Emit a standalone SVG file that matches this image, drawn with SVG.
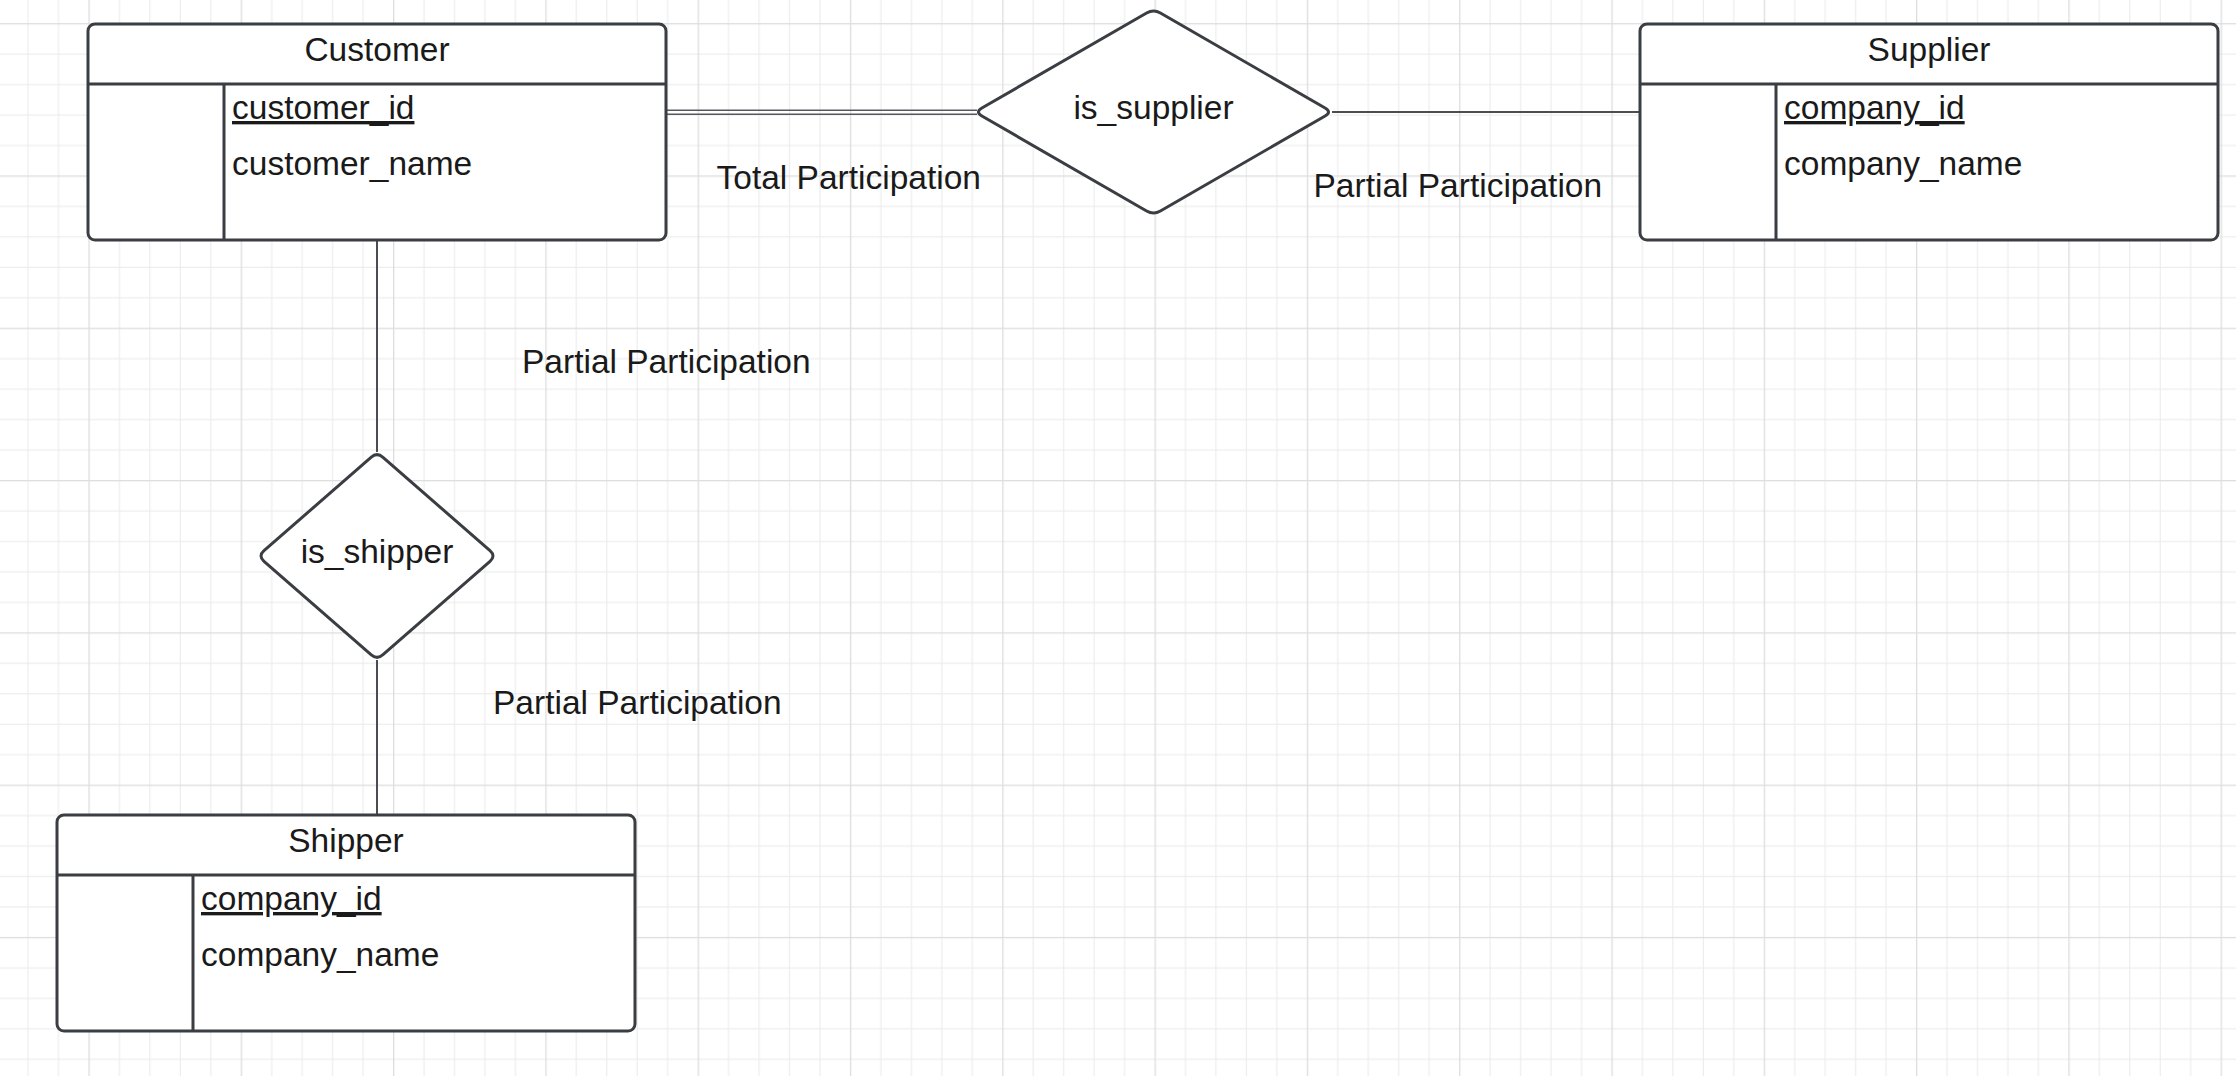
<svg xmlns="http://www.w3.org/2000/svg" width="2236" height="1076" viewBox="0 0 2236 1076">
  <style>
    .box { fill: #ffffff; stroke: #3a3d42; stroke-width: 3; }
    .sep { stroke: #3a3d42; stroke-width: 3; fill: none; }
    .conn { stroke: #4a4d52; stroke-width: 2; fill: none; }
    .dconn { stroke: #55585d; stroke-width: 1.6; fill: none; }
    text { font-family: "Liberation Sans", Arial, sans-serif; font-size: 33.5px; fill: #1a1a1a; }
    .title { text-anchor: middle; }
    .mid { text-anchor: middle; }
    .pk { text-decoration: underline; }
  </style>
  <defs>
    <pattern id="grid" width="152.3" height="152.3" patternUnits="userSpaceOnUse" x="88.4" y="23.1">
      <rect x="0" y="0" width="152.3" height="152.3" fill="#ffffff"/>
      <g fill="#ececec">
        <rect x="30.46" y="0" width="1.1" height="152.3"/>
        <rect x="60.92" y="0" width="1.1" height="152.3"/>
        <rect x="91.38" y="0" width="1.1" height="152.3"/>
        <rect x="121.84" y="0" width="1.1" height="152.3"/>
        <rect x="0" y="30.46" width="152.3" height="1.1"/>
        <rect x="0" y="60.92" width="152.3" height="1.1"/>
        <rect x="0" y="91.38" width="152.3" height="1.1"/>
        <rect x="0" y="121.84" width="152.3" height="1.1"/>
      </g>
      <g fill="#dedede">
        <rect x="0" y="0" width="1.3" height="152.3"/>
        <rect x="0" y="0" width="152.3" height="1.3"/>
      </g>
    </pattern>
  </defs>

  <rect x="0" y="0" width="2236" height="1076" fill="url(#grid)"/>

  <g id="connectors">
    <line class="dconn" x1="666" y1="110.3" x2="977" y2="110.3"/>
    <line class="dconn" x1="666" y1="114.3" x2="977" y2="114.3"/>
    <line class="conn" x1="1332" y1="112" x2="1640" y2="112"/>
    <line class="conn" x1="377" y1="240" x2="377" y2="452"/>
    <line class="conn" x1="377" y1="660" x2="377" y2="815"/>
  </g>

  <g id="labels">
    <text x="716.5" y="189">Total Participation</text>
    <text x="1313.5" y="197">Partial Participation</text>
    <text x="522" y="373">Partial Participation</text>
    <text x="493" y="714">Partial Participation</text>
  </g>

  <g id="customer">
    <rect class="box" x="88" y="24" width="578" height="216" rx="7"/>
    <line class="sep" x1="88" y1="84" x2="666" y2="84"/>
    <line class="sep" x1="224" y1="84" x2="224" y2="240"/>
    <text class="title" x="377" y="61">Customer</text>
    <text class="pk" x="232" y="119">customer_id</text>
    <text x="232" y="175">customer_name</text>
  </g>

  <g id="supplier">
    <rect class="box" x="1640" y="24" width="578" height="216" rx="7"/>
    <line class="sep" x1="1640" y1="84" x2="2218" y2="84"/>
    <line class="sep" x1="1776" y1="84" x2="1776" y2="240"/>
    <text class="title" x="1929" y="61">Supplier</text>
    <text class="pk" x="1784" y="119">company_id</text>
    <text x="1784" y="175">company_name</text>
  </g>

  <g id="shipper">
    <rect class="box" x="57" y="815" width="578" height="216" rx="7"/>
    <line class="sep" x1="57" y1="875" x2="635" y2="875"/>
    <line class="sep" x1="193" y1="875" x2="193" y2="1031"/>
    <text class="title" x="346" y="852">Shipper</text>
    <text class="pk" x="201" y="910">company_id</text>
    <text x="201" y="966">company_name</text>
  </g>

  <g id="is_supplier">
    <path class="box" d="M981.9,108 L1146.6,13 Q1153.5,9 1160.4,13 L1325.1,108 Q1332,112 1325.1,116 L1160.4,211 Q1153.5,215 1146.6,211 L981.9,116 Q975,112 981.9,108 Z"/>
    <text class="mid" x="1153.5" y="119">is_supplier</text>
  </g>

  <g id="is_shipper">
    <path class="box" d="M264,550.7 L371,457.3 Q377,452 383,457.3 L490,550.7 Q496,556 490,561.3 L383,654.7 Q377,660 371,654.7 L264,561.3 Q258,556 264,550.7 Z"/>
    <text class="mid" x="377" y="563">is_shipper</text>
  </g>
</svg>
